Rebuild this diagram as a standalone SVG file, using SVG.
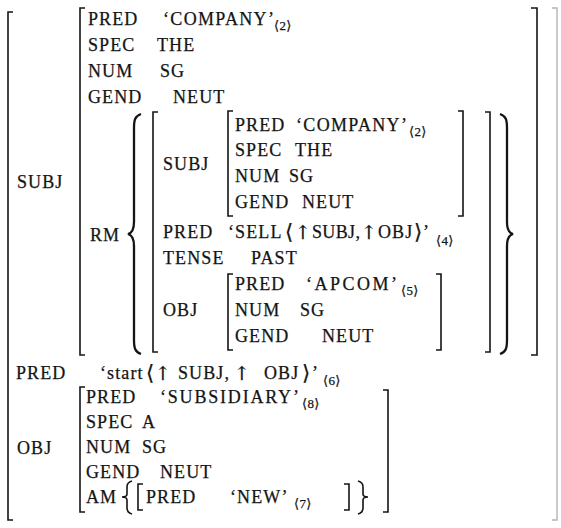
<svg xmlns="http://www.w3.org/2000/svg" width="561" height="528" viewBox="0 0 561 528">
  <style>
    .t { font-family: 'Liberation Serif', 'DejaVu Serif', serif; font-size: 18px; letter-spacing: 1.1px; fill: #141414; stroke: #141414; stroke-width: 0.25; }
    .s { font-size: 13px; letter-spacing: 0.4px; }
    .a { font-size: 21px; letter-spacing: 0; }
    .u { font-family: 'DejaVu Serif', serif; font-size: 19px; letter-spacing: 0; }
    .b { fill: none; stroke: #141414; stroke-width: 1.6; }
    .br { fill: none; stroke: #141414; stroke-width: 2.3; }
    .g { stroke: #b4b4b4; stroke-width: 1.4; }
  </style>
  <rect width="561" height="528" fill="#ffffff"/>

  <!-- square brackets -->
  <g id="brackets">
    <path class="b" d="M13,12 H8 V520 H13"/>
    <path class="b g" d="M552,8 H557 V520 H552"/>
    <path class="b" d="M85,8 H80 V355 H85"/>
    <path class="b" d="M531,8 H537 V355 H531"/>
    <path class="b" d="M158,112 H153 V352 H158"/>
    <path class="b" d="M485,112 H490 V352 H485"/>
    <path class="b" d="M233,111 H228 V216 H233"/>
    <path class="b" d="M458,111 H463 V216 H458"/>
    <path class="b" d="M233,274 H228 V350 H233"/>
    <path class="b" d="M436,274 H441 V350 H436"/>
    <path class="b" d="M85,387 H80 V512 H85"/>
    <path class="b" d="M383,390 H388 V512 H383"/>
    <path class="b" d="M143,484 H138 V510 H143"/>
    <path class="b" d="M344,484 H349 V510 H344"/>
  </g>

  <!-- curly braces -->
  <g id="braces">
    <path class="br" d="M141,114 C135,116 134,120 134,128 V222 C134,230 132,233 128,234 C132,235 134,238 134,246 V340 C134,348 135,352 141,354"/>
    <path class="br" d="M500,114 C506,116 507,120 507,128 V222 C507,230 509,233 513,234 C509,235 507,238 507,246 V340 C507,348 506,352 500,354"/>
    <path class="b" d="M132,481 C128,482 127,484 127,487 V494 C127,496 126,497 122,497 C126,497 127,498 127,500 V508 C127,511 128,513 132,514"/>
    <path class="b" d="M358,481 C362,482 363,484 363,487 V494 C363,496 364,497 368,497 C364,497 363,498 363,500 V508 C363,511 362,513 358,514"/>
  </g>

  <!-- outer level -->
  <g id="outer" class="t">
    <text x="17" y="188">SUBJ</text>
    <text x="16" y="379">PRED</text>
    <text x="100" y="379">‘start</text>
    <text x="146" y="380" class="a">⟨</text>
    <text x="155" y="380" class="u">↑</text>
    <text x="178" y="379" textLength="52" lengthAdjust="spacing">SUBJ,</text>
    <text x="234" y="380" class="u">↑</text>
    <text x="264" y="379">OBJ</text>
    <text x="302" y="380" class="a">⟩</text>
    <text x="312" y="379">’</text>
    <text x="323" y="385" class="s">⟨6⟩</text>
    <text x="17" y="454">OBJ</text>
  </g>

  <!-- SUBJ value -->
  <g id="subj" class="t">
    <text x="88" y="25">PRED</text>
    <text x="163" y="25" textLength="112" lengthAdjust="spacing">‘COMPANY’</text>
    <text x="274" y="30" class="s">⟨2⟩</text>
    <text x="88" y="51">SPEC</text><text x="157" y="51">THE</text>
    <text x="88" y="77">NUM</text><text x="160" y="77">SG</text>
    <text x="88" y="103">GEND</text><text x="173" y="103">NEUT</text>
    <text x="90" y="241">RM</text>
  </g>

  <!-- relative clause -->
  <g id="rm" class="t">
    <text x="163" y="170">SUBJ</text>
    <text x="235" y="131">PRED</text>
    <text x="296" y="131" textLength="112" lengthAdjust="spacing">‘COMPANY’</text>
    <text x="409" y="136" class="s">⟨2⟩</text>
    <text x="235" y="156">SPEC</text><text x="295" y="156">THE</text>
    <text x="235" y="182">NUM</text><text x="289" y="182">SG</text>
    <text x="235" y="208">GEND</text><text x="302" y="208">NEUT</text>
    <text x="163" y="238">PRED</text>
    <text x="228" y="238">‘SELL</text>
    <text x="285" y="239" class="a">⟨</text>
    <text x="295" y="239" class="u">↑</text>
    <text x="312" y="238" textLength="49" lengthAdjust="spacing">SUBJ,</text>
    <text x="361" y="239" class="u">↑</text>
    <text x="378" y="238">OBJ</text>
    <text x="414" y="239" class="a">⟩</text>
    <text x="423" y="238">’</text>
    <text x="436" y="245" class="s">⟨4⟩</text>
    <text x="163" y="264">TENSE</text><text x="251" y="264">PAST</text>
    <text x="163" y="316">OBJ</text>
    <text x="235" y="290">PRED</text>
    <text x="306" y="290" textLength="92" lengthAdjust="spacing">‘APCOM’</text>
    <text x="401" y="295" class="s">⟨5⟩</text>
    <text x="235" y="316">NUM</text><text x="300" y="316">SG</text>
    <text x="235" y="342">GEND</text><text x="322" y="342">NEUT</text>
  </g>

  <!-- OBJ value -->
  <g id="obj" class="t">
    <text x="86" y="403">PRED</text>
    <text x="160" y="403" textLength="140" lengthAdjust="spacing">‘SUBSIDIARY’</text>
    <text x="302" y="408" class="s">⟨8⟩</text>
    <text x="86" y="428">SPEC</text><text x="142" y="428">A</text>
    <text x="86" y="453">NUM</text><text x="142" y="453">SG</text>
    <text x="86" y="478">GEND</text><text x="160" y="478">NEUT</text>
    <text x="86" y="503">AM</text>
    <text x="146" y="503">PRED</text>
    <text x="230" y="503">‘NEW’</text>
    <text x="294" y="508" class="s">⟨7⟩</text>
  </g>
</svg>
